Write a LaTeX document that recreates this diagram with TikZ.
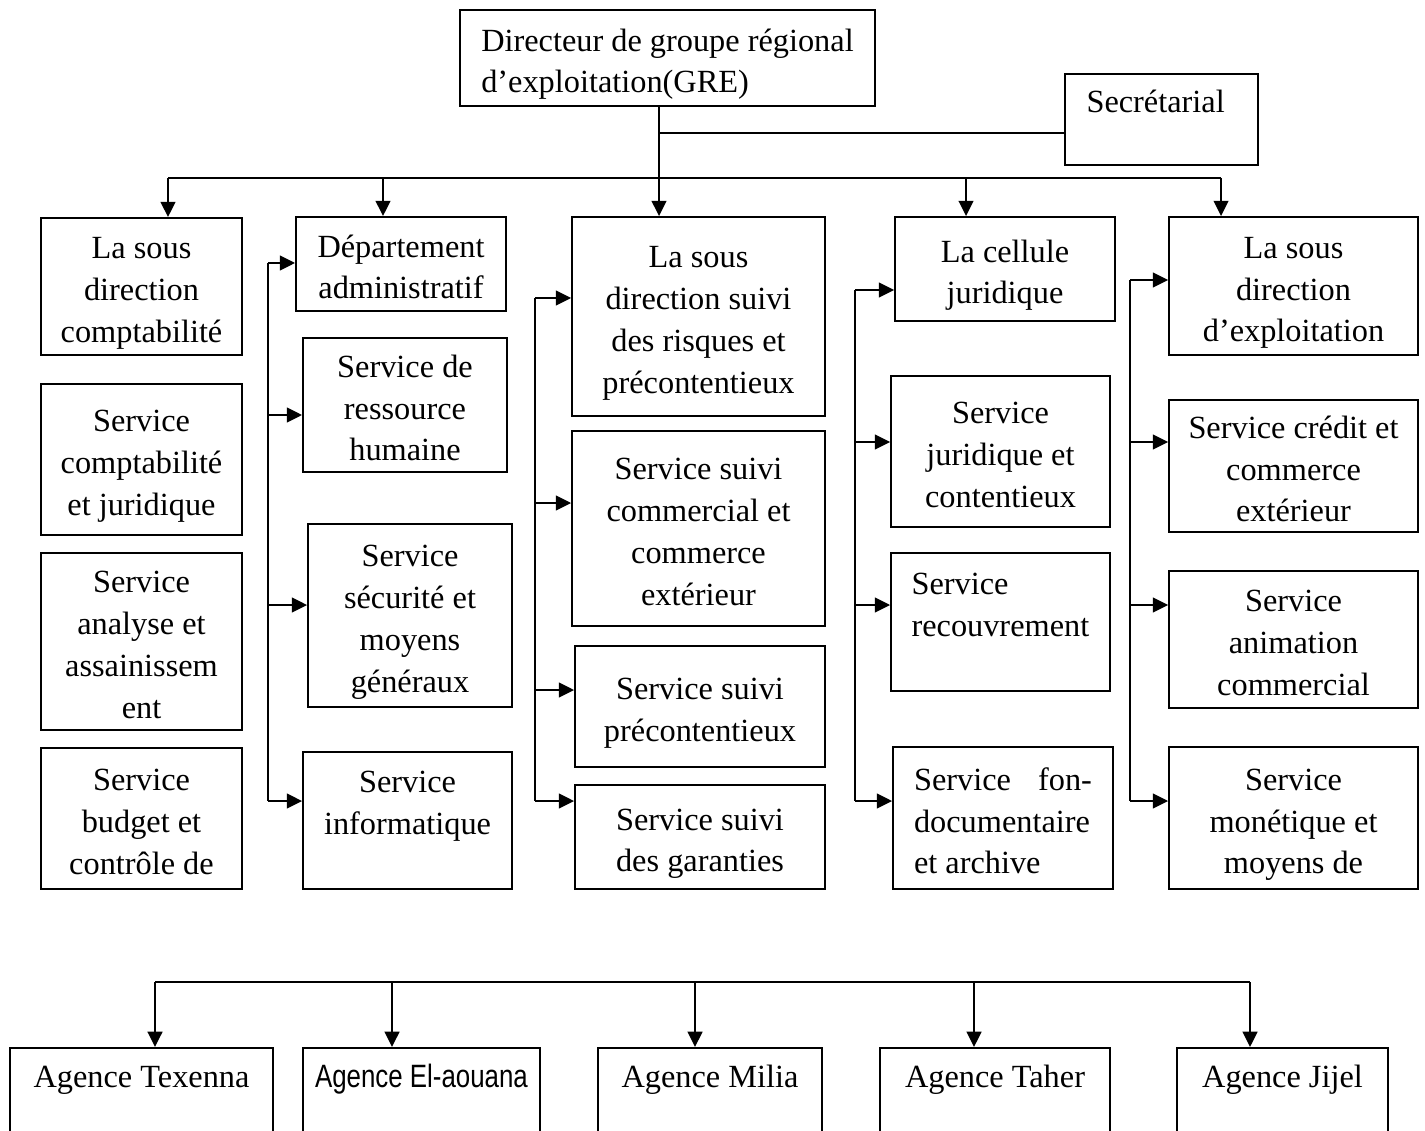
\documentclass[tikz,border=0pt]{standalone}
\usepackage{fontspec}
\setmainfont{Liberation Serif}
\newfontfamily\narrowsans[FakeStretch=0.8]{Liberation Sans}
\usetikzlibrary{arrows.meta}

\begin{document}
\begin{tikzpicture}[x=0.02cm, y=-0.02cm,
  box/.style={draw, line width=1.1pt, inner sep=0pt, align=flush center,
              font=\fontsize{18.4pt}{23.8pt}\selectfont},
  unit/.style={box, text width=4cm,
               execute at begin node={\rule[-4pt]{0pt}{24pt}},
               execute at end node={\rule[-4pt]{0pt}{20pt}}},
  agence/.style={box, anchor=north, text height=22.7pt, text depth=80pt},
  arr/.style={-{Triangle[length=8.7pt, width=8.4pt]}, line width=1.1pt},
  link/.style={line width=1.1pt}
]
\useasboundingbox (0,0) rectangle (1425,1131);

% direction
\node[unit, align=flush left, text width=7.45cm, minimum width=8.3cm, minimum height=1.92cm] (dir) at (667.5,58)
  {Directeur de groupe régional\\d’exploitation(GRE)};
\node[unit, align=flush left, text width=3.0cm, minimum width=3.86cm, minimum height=1.82cm] (sec) at (1161.5,119.5)
  {Secrétarial\\\mbox{}};

% column 1
\node[unit, minimum width=4.02cm, minimum height=2.74cm] (c1a) at (141.5,286.5) {La sous\\direction\\comptabilité};
\node[unit, minimum width=4.02cm, minimum height=3.02cm] (c1b) at (141.5,459.5) {Service\\comptabilité\\et juridique};
\node[unit, minimum width=4.02cm, minimum height=3.54cm] (c1c) at (141.5,641.5) {Service\\analyse et\\assainissem\\ent};
\node[unit, minimum width=4.02cm, minimum height=2.82cm] (c1d) at (141.5,818.5) {Service\\budget et\\contrôle de};

% column 2
\node[unit, minimum width=4.2cm, minimum height=1.88cm] (dep) at (401,264) {Département\\administratif};
\node[unit, minimum width=4.08cm, minimum height=2.68cm] (srh) at (405,405) {Service de\\ressource\\humaine};
\node[unit, minimum width=4.08cm, minimum height=3.66cm] (ssec) at (410,615.5) {Service\\sécurité et\\moyens\\généraux};
\node[unit, minimum width=4.18cm, minimum height=2.74cm] (sinf) at (407.5,820.5) {Service\\informatique\\\mbox{}};

% column 3
\node[unit, minimum width=5.06cm, minimum height=3.98cm] (c3a) at (698.5,316.5) {La sous\\direction suivi\\des risques et\\précontentieux};
\node[unit, minimum width=5.06cm, minimum height=3.9cm] (c3b) at (698.5,528.5) {Service suivi\\commercial et\\commerce\\extérieur};
\node[unit, minimum width=5.0cm, minimum height=2.42cm] (c3c) at (700,706.5) {Service suivi\\précontentieux};
\node[unit, minimum width=5.0cm, minimum height=2.08cm] (c3d) at (700,837) {Service suivi\\des garanties};

% column 4
\node[unit, minimum width=4.4cm, minimum height=2.08cm] (c4a) at (1005,269) {La cellule\\juridique};
\node[unit, minimum width=4.38cm, minimum height=3.02cm] (c4b) at (1000.5,451.5) {Service\\juridique et\\contentieux};
\node[unit, align=flush left, text width=3.56cm, minimum width=4.38cm, minimum height=2.76cm] (c4c) at (1000.5,622)
  {Service\\recouvrement\\\mbox{}};
\node[unit, align=flush left, text width=3.56cm, minimum width=4.4cm, minimum height=2.84cm] (c4d) at (1003,818)
  {Service\hfill fon-\\documentaire\\et archive};

% column 5
\node[unit, minimum width=4.98cm, minimum height=2.76cm] (c5a) at (1293.5,286) {La sous\\direction\\d’exploitation};
\node[unit, text width=4.5cm, minimum width=4.98cm, minimum height=2.64cm] (c5b) at (1293.5,466) {Service crédit et\\commerce\\extérieur};
\node[unit, minimum width=4.98cm, minimum height=2.74cm] (c5c) at (1293.5,639.5) {Service\\animation\\commercial};
\node[unit, minimum width=4.98cm, minimum height=2.84cm] (c5d) at (1293.5,818) {Service\\monétique et\\moyens de};

% agences
\node[agence, minimum width=5.26cm] (ag1) at (141.5,1047) {Agence Texenna};
\node[agence, minimum width=4.74cm] (ag2) at (421.5,1047) {\narrowsans Agence El-aouana};
\node[agence, minimum width=4.48cm] (ag3) at (710,1047) {Agence Milia};
\node[agence, minimum width=4.6cm] (ag4) at (995,1047) {Agence Taher};
\node[agence, minimum width=4.22cm] (ag5) at (1282.5,1047) {Agence Jijel};

% top bus
\coordinate (t1) at (168,178);
\coordinate (t2) at (383,178);
\coordinate (t3) at (659,178);
\coordinate (t4) at (966,178);
\coordinate (t5) at (1221,178);
\coordinate (j) at (659,133);
\draw[link] (t3 |- dir.south) -- (t3);
\draw[link] (j) -- (j -| sec.west);
\draw[link] (t1) -- (t5);
\draw[arr] (t1) -- (t1 |- c1a.north);
\draw[arr] (t2) -- (t2 |- dep.north);
\draw[arr] (t3) -- (t3 |- c3a.north);
\draw[arr] (t4) -- (t4 |- c4a.north);
\draw[arr] (t5) -- (t5 |- c5a.north);

% side spines
\coordinate (s2) at (268,263);
\coordinate (s3) at (535,298);
\coordinate (s4) at (855,290);
\coordinate (s5) at (1130,280);
\draw[link] (s2) -- (s2 |- 0,801);
\draw[link] (s3) -- (s3 |- 0,801);
\draw[link] (s4) -- (s4 |- 0,801);
\draw[link] (s5) -- (s5 |- 0,801);
\foreach \y/\n in {263/dep, 415/srh, 605/ssec, 801/sinf}
  \draw[arr] (s2 |- 0,\y) -- (\n.west |- 0,\y);
\foreach \y/\n in {298/c3a, 503/c3b, 690/c3c, 801/c3d}
  \draw[arr] (s3 |- 0,\y) -- (\n.west |- 0,\y);
\foreach \y/\n in {290/c4a, 442/c4b, 605/c4c, 801/c4d}
  \draw[arr] (s4 |- 0,\y) -- (\n.west |- 0,\y);
\foreach \y/\n in {280/c5a, 442/c5b, 605/c5c, 801/c5d}
  \draw[arr] (s5 |- 0,\y) -- (\n.west |- 0,\y);

% bottom bus
\coordinate (b1) at (155,982);
\coordinate (b2) at (392,982);
\coordinate (b3) at (695,982);
\coordinate (b4) at (974,982);
\coordinate (b5) at (1250,982);
\draw[link] (b1) -- (b5);
\draw[arr] (b1) -- (b1 |- ag1.north);
\draw[arr] (b2) -- (b2 |- ag2.north);
\draw[arr] (b3) -- (b3 |- ag3.north);
\draw[arr] (b4) -- (b4 |- ag4.north);
\draw[arr] (b5) -- (b5 |- ag5.north);
\end{tikzpicture}
\end{document}
